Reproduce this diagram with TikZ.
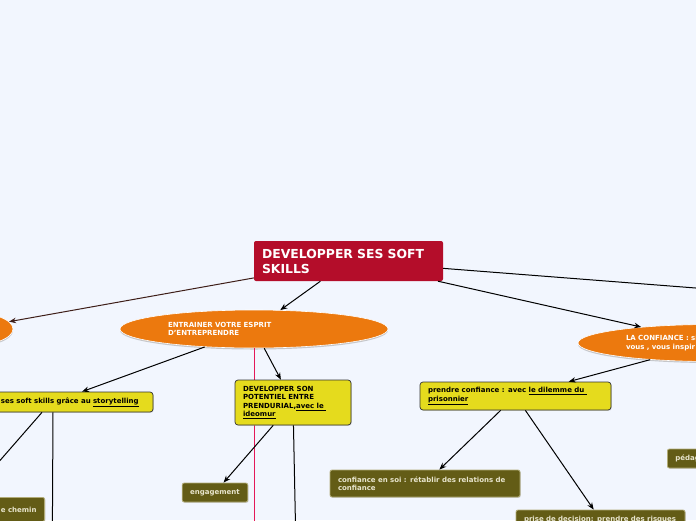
\documentclass[tikz,border=0pt]{standalone}
\usepackage{fontspec}
\setmainfont{DejaVu Sans}
\usetikzlibrary{arrows.meta,shapes.geometric,shadows}
\definecolor{PageBlue}{RGB}{242,246,254}
\definecolor{RootRed}{RGB}{180,13,42}
\definecolor{TopicOrange}{RGB}{236,121,14}
\definecolor{SubYellow}{RGB}{229,219,29}
\definecolor{LeafOlive}{RGB}{99,92,22}
\definecolor{LeafEdge}{RGB}{178,172,120}
\definecolor{LeafText}{RGB}{232,229,205}
\definecolor{LinkPink}{RGB}{228,24,88}
\definecolor{LinkBrown}{RGB}{62,30,24}
\tikzset{
  txt/.style={font=\fontsize{7}{8.5}\selectfont\bfseries},
  rootbox/.style={fill=RootRed,text=white,rounded corners=2pt,inner xsep=8pt,inner ysep=0pt,
    minimum width=189pt,minimum height=40pt,text width=173pt,align=left,
    font=\fontsize{12.4}{15}\selectfont\bfseries},
  topicel/.style={ellipse,fill=TopicOrange,draw=white,line width=0.6pt,text=white,txt,
    inner sep=0pt,minimum width=268pt,minimum height=38pt,align=left,
    drop shadow={shadow xshift=0pt,shadow yshift=-1.5pt,fill=black!40,opacity=.5}},
  subbox/.style={fill=SubYellow,draw=black!80,line width=0.7pt,rounded corners=3pt,txt,
    inner xsep=8pt,inner ysep=0pt,align=left,
    drop shadow={shadow xshift=.8pt,shadow yshift=-.8pt,fill=black!30,opacity=.5}},
  leafbox/.style={fill=LeafOlive,draw=LeafEdge,line width=0.8pt,rounded corners=2pt,txt,
    text=LeafText,inner xsep=8pt,inner ysep=0pt,align=left,
    drop shadow={shadow xshift=.8pt,shadow yshift=-.8pt,fill=black!30,opacity=.5}},
  link/.style={draw=black,line width=1pt,-{Stealth[length=7pt,width=5.5pt]}},
}
\begin{document}
\begin{tikzpicture}[x=1pt,y=-1pt]
  \path[fill=PageBlue,use as bounding box] (0,0) rectangle (696,520);
  \clip (0,0) rectangle (696,520);
  \node[rootbox] (root) at (348.5,261) {DEVELOPPER SES SOFT\\SKILLS};
  \node[topicel,minimum width=90pt,minimum height=34pt] (left) at (-32,329) {};
  \node[topicel,text width=172pt] (ent) at (254,329) {ENTRAINER VOTRE ESPRIT\\D'ENTREPRENDRE};
  \node[topicel,text width=172pt,minimum height=37pt] (conf) at (712,343) {LA CONFIANCE : si\\vous , vous inspir};
  \coordinate (rootfar) at (760,293);
  \coordinate (entlow) at (254,600);
  \coordinate (storylow) at (52,600);
  \coordinate (potlow) at (297,600);
  \draw[draw=LinkPink,line width=1pt] (ent) -- (entlow);

  \node[subbox,text width=144pt,minimum height=20pt] (story) at (73,402) {ses soft skills grâce au \underline{storytelling}};
  \node[subbox,text width=100pt,minimum height=45pt] (pot) at (293,402.5) {DEVELOPPER SON\\POTENTIEL ENTRE\\PRENDURIAL,\underline{avec le }\\\underline{ideomur}};
  \node[subbox,text width=175pt,minimum height=28pt] (prend) at (515.5,396) {prendre confiance : avec \underline{le dilemme du }\\\underline{prisonnier}};

  \node[leafbox,minimum width=64pt,minimum height=19pt] (eng) at (215,492.5) {engagement};
  \node[leafbox,text width=174pt,minimum height=27pt] (soi) at (425,483.5) {confiance en soi : rétablir des relations de\\confiance};
  \node[leafbox,text width=153pt,minimum height=19pt] (risk) at (600.5,519.5) {prise de decision: prendre des risques};
  \node[leafbox,text width=137pt,align=right,minimum height=24pt,anchor=north east] (chemin) at (45,497) {e chemin};
  \node[leafbox,text width=50pt,minimum height=19pt,anchor=west] (peda) at (667,458.5) {pédag};

  \draw[link,draw=LinkBrown] (root) -- (left);
  \foreach \i/\j in {root/ent,root/conf,root/rootfar,ent/pot,conf/prend,pot/eng,pot/potlow,prend/soi,prend/risk}
    \draw[link] (\i) -- (\j);
  \draw[link] (ent) -- ([xshift=9pt]story.north);
  \draw[link] ([xshift=-31pt]story.south) -- (chemin.north);
  \draw[link] ([xshift=-20pt]story.south) -- (storylow);
\end{tikzpicture}
\end{document}
